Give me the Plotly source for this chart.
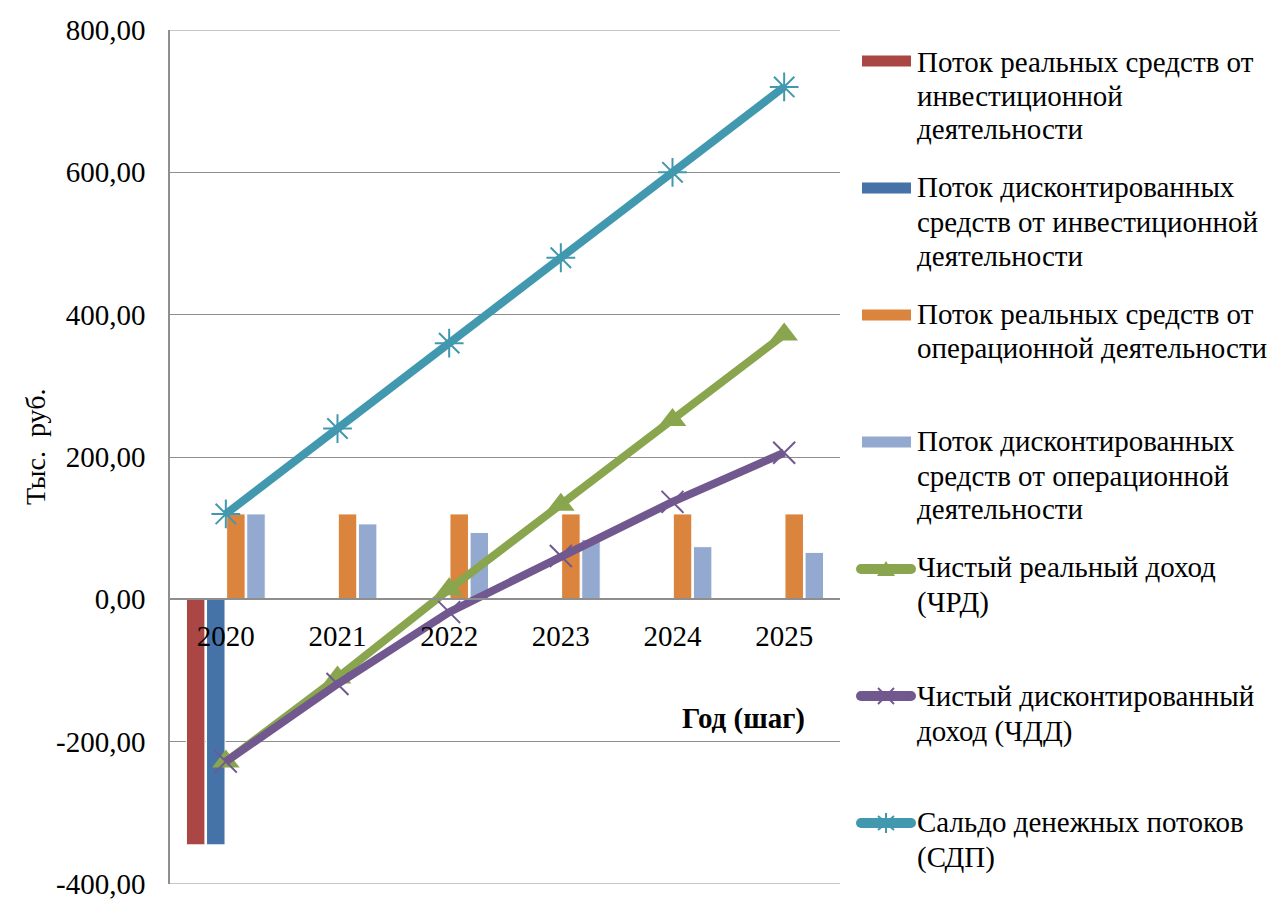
import plotly.graph_objects as go

# ---- data (тыс. руб.) ----
years = ["2020", "2021", "2022", "2023", "2024", "2025"]
invest_real = [-345, None, None, None, None, None]
invest_disc = [-345, None, None, None, None, None]
oper_real = [120, 120, 120, 120, 120, 120]
oper_disc = [120, 106, 94, 84, 74, 66]
chrd = [-228, -110, 14, 133, 252, 372]
chdd = [-228, -119, -18, 61, 137, 206]
sdp = [120, 240, 360, 480, 600, 720]

y_tickvals = [-400, -200, 0, 200, 400, 600, 800]
y_ticktext = ["-400,00", "-200,00", "0,00", "200,00", "400,00", "600,00", "800,00"]

legend_lines = [
    ["Поток реальных средств от", "инвестиционной", "деятельности"],
    ["Поток дисконтированных", "средств от инвестиционной", "деятельности"],
    ["Поток реальных средств от", "операционной деятельности"],
    ["Поток дисконтированных", "средств от операционной", "деятельности"],
    ["Чистый реальный доход", "(ЧРД)"],
    ["Чистый дисконтированный", "доход (ЧДД)"],
    ["Сальдо денежных потоков", "(СДП)"],
]
names = [" ".join(parts) for parts in legend_lines]

C_RED, C_BLUE, C_ORANGE, C_LBLUE = "#AA4643", "#4572A7", "#DB843D", "#93A9CF"
C_GREEN, C_PURPLE, C_TEAL = "#89A54E", "#71588F", "#4198AF"
GRID = "#8E8E8E"
FONT = "Liberation Serif"
FS = 29

# plot-area frame in pixels
W, H = 1274, 900
PL, PR, PT, PB = 170, 840, 30, 884
ZERO_PX = PT + (PB - PT) * 800 / 1200


def px(x):
    return (x - PL) / (PR - PL)


def py(y):
    return (PB - y) / (PB - PT)


fig = go.Figure()

bar_series = [
    (invest_real, C_RED),
    (invest_disc, C_BLUE),
    (oper_real, C_ORANGE),
    (oper_disc, C_LBLUE),
]
for i, (vals, col) in enumerate(bar_series):
    fig.add_trace(go.Bar(
        x=years, y=vals, name=names[i], showlegend=False,
        marker=dict(color=col, line=dict(color="white", width=1)),
    ))

line_series = [
    (chrd, C_GREEN, dict(symbol="triangle-up", size=24, color=C_GREEN)),
    (chdd, C_PURPLE, dict(symbol="x-thin-open", size=22,
                          line=dict(color=C_PURPLE, width=2))),
    (sdp, C_TEAL, dict(symbol="asterisk-open", size=24,
                       line=dict(color=C_TEAL, width=2))),
]
for j, (vals, col, mk) in enumerate(line_series):
    fig.add_trace(go.Scatter(
        x=years, y=vals, name=names[4 + j], showlegend=False,
        mode="lines+markers", line=dict(color=col, width=8), marker=mk,
    ))

shapes = []
annotations = []

# outer gridlines at the range limits
for yv in (-400, 800):
    shapes.append(dict(type="line", xref="paper", yref="y", x0=0, x1=1, y0=yv, y1=yv,
                       line=dict(color=GRID, width=1.2), layer="below"))

# ---- hand-built legend on the right ----
swatch_rows = [61, 188, 315, 442, 569, 696, 823]
text_baselines = [
    [73, 107, 140],
    [198, 233, 267],
    [325, 359],
    [452, 487, 520],
    [578, 613],
    [707, 742],
    [833, 868],
]
swatch_cols = [C_RED, C_BLUE, C_ORANGE, C_LBLUE, C_GREEN, C_PURPLE, C_TEAL]
for k, yc in enumerate(swatch_rows):
    col = swatch_cols[k]
    if k < 4:
        shapes.append(dict(type="rect", xref="paper", yref="paper",
                           x0=px(862), x1=px(911), y0=py(yc + 5.5), y1=py(yc - 5.5),
                           fillcolor=col, line=dict(width=0)))
    else:
        shapes.append(dict(type="line", xref="paper", yref="paper",
                           x0=px(861), x1=px(911), y0=py(yc), y1=py(yc),
                           line=dict(color=col, width=10)))
        for ex in (861, 911):
            shapes.append(dict(type="circle", xref="paper", yref="paper",
                               x0=px(ex - 5), x1=px(ex + 5), y0=py(yc + 5), y1=py(yc - 5),
                               fillcolor=col, line=dict(width=0)))
    for text, base in zip(legend_lines[k], text_baselines[k]):
        annotations.append(dict(
            text=text, xref="paper", yref="paper", x=px(915), y=py(base - FS),
            xanchor="left", yanchor="top", align="left", showarrow=False,
            font=dict(family=FONT, size=FS, color="black"),
        ))

# legend glyphs for the line series
yc = swatch_rows[4]
shapes.append(dict(type="path", xref="paper", yref="paper",
                   path=f"M{px(886)},{py(yc - 8)} L{px(895)},{py(yc + 7)} L{px(877)},{py(yc + 7)} Z",
                   fillcolor=C_GREEN, line=dict(width=0)))
yc = swatch_rows[5]
for (x0, y0, x1, y1) in [(878, yc - 8, 894, yc + 8), (878, yc + 8, 894, yc - 8)]:
    shapes.append(dict(type="line", xref="paper", yref="paper",
                       x0=px(x0), x1=px(x1), y0=py(y0), y1=py(y1),
                       line=dict(color=C_PURPLE, width=2)))
yc = swatch_rows[6]
for (x0, y0, x1, y1) in [(886, yc - 10, 886, yc + 10), (878, yc - 7, 894, yc + 7),
                         (878, yc + 7, 894, yc - 7)]:
    shapes.append(dict(type="line", xref="paper", yref="paper",
                       x0=px(x0), x1=px(x1), y0=py(y0), y1=py(y1),
                       line=dict(color=C_TEAL, width=2)))

# axis titles
annotations.append(dict(
    text="Тыс.  руб.", xref="paper", yref="paper", x=px(35), y=py(447),
    textangle=-90, showarrow=False, xanchor="center", yanchor="middle",
    font=dict(family=FONT, size=28, color="black"),
))
annotations.append(dict(
    text="<b>Год (шаг)</b>", xref="paper", yref="paper", x=px(743), y=py(718),
    showarrow=False, xanchor="center", yanchor="middle",
    font=dict(family=FONT, size=FS, color="black"),
))

fig.update_layout(
    width=W, height=H,
    margin=dict(l=PL, r=W - PR, t=PT, b=H - PB, pad=0),
    paper_bgcolor="white", plot_bgcolor="white",
    barmode="group", bargap=0.28, bargroupgap=0.08,
    font=dict(family=FONT, size=FS, color="black"),
    shapes=shapes, annotations=annotations,
    showlegend=False,
)
fig.update_xaxes(
    type="category", range=[-0.5, 5.5], automargin=False,
    anchor="free", position=py(ZERO_PX),
    showline=True, linecolor=GRID, linewidth=1.5,
    showgrid=False, ticks="", ticklabelstandoff=11,
    tickfont=dict(family=FONT, size=FS, color="black"),
)
fig.update_yaxes(
    range=[-400, 800], tickvals=y_tickvals, ticktext=y_ticktext, automargin=False,
    showline=True, linecolor=GRID, linewidth=1.5,
    showgrid=True, gridcolor=GRID, gridwidth=1.2, zeroline=False,
    ticks="", ticklabelstandoff=17, ticklabeloverflow="allow",
    tickfont=dict(family=FONT, size=FS, color="black"),
)

fig.write_html("out.html")
